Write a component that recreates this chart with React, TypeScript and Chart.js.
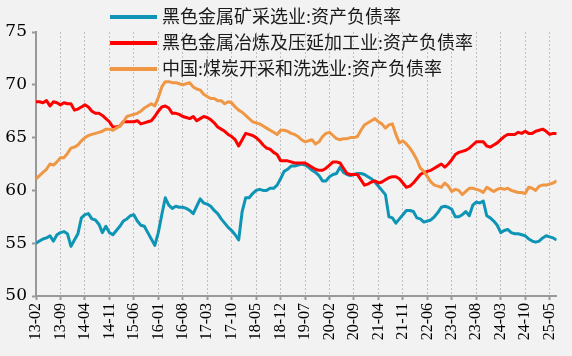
import React, { useEffect, useRef } from "react";
import { Chart, registerables } from "chart.js";

Chart.register(...registerables);

// Monthly categories 13-02 … 25-07
const START_YEAR = 2013;
const START_MONTH = 2;
const months: string[] = [];
for (let i = 0; i < 150; i++) {
  const t = START_YEAR * 12 + (START_MONTH - 1) + i;
  const y = Math.floor(t / 12) % 100;
  const m = (t % 12) + 1;
  months.push(`${String(y).padStart(2, "0")}-${String(m).padStart(2, "0")}`);
}
const TICK_STEP = 7;

const seriesNames = [
  "黑色金属矿采选业:资产负债率",
  "黑色金属冶炼及压延加工业:资产负债率",
  "中国:煤炭开采和洗选业:资产负债率",
];

const mining = [
  55.0, 55.2, 55.4, 55.5, 55.7, 55.2, 55.8, 56.0, 56.1, 55.9,
  54.7, 55.3, 55.9, 57.4, 57.7, 57.8, 57.3, 57.2, 56.8, 56.0,
  56.6, 56.0, 55.8, 56.2, 56.6, 57.1, 57.3, 57.6, 57.7, 57.1,
  56.7, 56.6, 56.0, 55.4, 54.8, 56.0, 57.7, 59.3, 58.6, 58.3,
  58.5, 58.4, 58.4, 58.3, 58.1, 57.8, 58.5, 59.2, 58.8, 58.7,
  58.5, 58.1, 57.8, 57.3, 56.9, 56.5, 56.2, 55.8, 55.3, 58.0,
  59.3, 59.3, 59.7, 60.0, 60.1, 60.0, 60.0, 60.2, 60.2, 60.5,
  61.1, 61.8, 62.0, 62.3, 62.3, 62.4, 62.5, 62.4, 62.2, 61.9,
  61.7, 61.4, 60.9, 60.9, 61.3, 61.5, 61.6, 62.2, 61.7, 61.5,
  61.4, 61.5, 61.6, 61.6, 61.5, 61.3, 61.1, 60.8, 60.4, 60.0,
  59.6, 57.5, 57.4, 56.9, 57.3, 57.7, 58.1, 58.1, 58.0, 57.4,
  57.3, 57.0, 57.1, 57.2, 57.5, 57.9, 58.4, 58.5, 58.4, 58.2,
  57.5, 57.5, 57.7, 58.0, 57.6, 58.6, 58.9, 58.8, 59.0, 57.6,
  57.4, 57.1, 56.7, 56.0, 56.2, 56.3, 56.0, 55.9, 55.9, 55.8,
  55.7, 55.4, 55.2, 55.1, 55.2, 55.5, 55.7, 55.6, 55.5, 55.3,
];

const smelting = [
  68.4, 68.4, 68.3, 68.5, 68.0, 68.4, 68.3, 68.1, 68.3, 68.2,
  68.2, 67.6, 67.7, 67.9, 68.1, 67.9, 67.5, 67.3, 67.3, 67.1,
  66.8, 66.5, 66.0, 66.0, 66.1, 66.5, 66.5, 66.5, 66.5, 66.6,
  66.3, 66.4, 66.5, 66.6, 67.0, 67.5, 67.9, 68.0, 67.8, 67.3,
  67.3, 67.2, 67.0, 66.9, 66.8, 67.0, 66.6, 66.8, 67.0, 66.9,
  66.7, 66.4, 66.0, 65.8, 65.6, 65.3, 65.1, 64.8, 64.2, 64.8,
  65.4, 65.3, 65.2, 65.0, 64.7, 64.3, 64.0, 63.9, 63.6, 63.4,
  62.8, 62.8, 62.8, 62.7, 62.6, 62.6, 62.6, 62.6, 62.4, 62.2,
  62.0, 61.9, 61.9, 62.1, 62.4, 62.7, 62.7, 62.6, 62.1, 61.6,
  61.5, 61.5, 61.5, 61.0, 60.5, 60.6, 60.8, 60.9, 60.7, 60.8,
  61.0, 61.2, 61.3, 61.3, 61.1, 60.7, 60.3, 60.4, 60.7, 61.1,
  61.5, 61.7, 61.8, 61.9, 62.1, 62.3, 62.5, 62.2, 62.5, 62.9,
  63.4, 63.6, 63.7, 63.8, 64.0, 64.3, 64.6, 64.6, 64.6, 64.2,
  64.1, 64.3, 64.5, 64.8, 65.1, 65.3, 65.3, 65.3, 65.5, 65.4,
  65.6, 65.4, 65.4, 65.6, 65.7, 65.8, 65.6, 65.3, 65.4, 65.4,
];

const coal = [
  61.1, 61.4, 61.7, 62.0, 62.5, 62.4, 62.7, 63.1, 63.1, 63.5,
  64.0, 64.1, 64.3, 64.7, 65.0, 65.2, 65.3, 65.4, 65.5, 65.6,
  65.8, 65.8, 65.7, 65.9, 66.1, 66.5, 67.0, 67.1, 67.2, 67.3,
  67.5, 67.8, 68.0, 68.2, 68.0, 68.8, 69.8, 70.3, 70.3, 70.2,
  70.2, 70.1, 70.0, 70.1, 70.2, 69.8, 69.6, 69.5, 69.1, 68.9,
  68.7, 68.7, 68.5, 68.5, 68.2, 68.4, 68.3, 67.9, 67.6, 67.4,
  67.1, 66.8, 66.5, 66.4, 66.3, 66.1, 65.9, 65.7, 65.5, 65.3,
  65.7, 65.7, 65.6, 65.4, 65.3, 65.1, 64.8, 64.6, 64.7, 64.8,
  64.4, 64.6, 65.1, 65.4, 65.5, 65.2, 64.9, 64.8, 64.9, 64.9,
  65.0, 65.0, 65.1, 65.7, 66.2, 66.4, 66.6, 66.8, 66.5, 66.3,
  65.9, 66.2, 66.3, 65.3, 64.5, 64.7, 64.4, 64.0, 63.5, 62.9,
  62.1, 61.8, 61.3, 60.8, 60.5, 60.4, 60.3, 60.7, 60.4, 59.9,
  60.1, 60.0, 59.6, 59.9, 60.2, 60.2, 60.1, 60.0, 59.8, 60.3,
  60.1, 59.9, 60.1, 60.2, 60.1, 60.2, 60.0, 59.9, 59.8, 59.8,
  59.7, 60.3, 60.2, 60.0, 60.4, 60.5, 60.5, 60.6, 60.7, 60.9,
];

const seriesColors = ["#0e95b6", "#ff0000", "#ef9744"];

const BG = "#f2f2f2";
const SERIF = '"Times New Roman", "Liberation Serif", "Noto Sans CJK SC", serif';
const SERIF_WIDE = '"DejaVu Serif", "Liberation Serif", serif';

const legendPlugin = {
  id: "customLegend",
  afterDraw(chart: any) {
    const ctx = chart.ctx;
    ctx.save();
    chart.data.datasets.forEach((ds: any, i: number) => {
      const y = 17 + i * 26;
      ctx.strokeStyle = ds.borderColor;
      ctx.lineWidth = 4;
      ctx.beginPath();
      ctx.moveTo(110, y);
      ctx.lineTo(157, y);
      ctx.stroke();
      ctx.fillStyle = "#1a1a1a";
      ctx.font = `18px ${SERIF}`;
      ctx.textBaseline = "middle";
      ctx.textAlign = "left";
      ctx.fillText(ds.label, 162, y + 1);
    });
    ctx.restore();
  },
};

const bgPlugin = {
  id: "bg",
  beforeDraw(chart: any) {
    const ctx = chart.ctx;
    ctx.save();
    ctx.fillStyle = BG;
    ctx.fillRect(0, 0, chart.width, chart.height);
    ctx.restore();
  },
};

export default function App() {
  const ref = useRef<HTMLCanvasElement | null>(null);

  useEffect(() => {
    if (!ref.current) return;
    const all = [mining, smelting, coal];
    const chart = new Chart(ref.current, {
      type: "line",
      data: {
        datasets: all.map((arr, k) => ({
          label: seriesNames[k],
          data: arr.map((v, i) => ({ x: i, y: v })),
          borderColor: seriesColors[k],
          backgroundColor: seriesColors[k],
          borderWidth: 3,
          pointRadius: 0,
          tension: 0,
          borderJoinStyle: "round" as const,
          order: 3 - k,
        })),
      },
      options: {
        animation: false,
        responsive: true,
        maintainAspectRatio: false,
        layout: { padding: { top: 32, right: 11, left: 0, bottom: 0 } },
        plugins: {
          legend: { display: false },
          tooltip: { enabled: false },
        },
        scales: {
          x: {
            type: "linear",
            min: 0,
            max: months.length - 1,
            afterBuildTicks: (axis: any) => {
              const t = [];
              for (let i = 0; i < months.length; i += TICK_STEP) t.push({ value: i });
              axis.ticks = t;
            },
            afterFit: (s: any) => {
              s.height = 60;
            },
            ticks: {
              autoSkip: false,
              minRotation: 90,
              maxRotation: 90,
              padding: 3,
              color: "#000",
              font: { family: SERIF, size: 16 },
              callback: (v: any) => months[Math.round(Number(v))] ?? "",
            },
            grid: {
              display: true,
              drawOnChartArea: true,
              drawTicks: true,
              color: "#c0c0c0",
              lineWidth: 1,
              tickLength: 4,
              tickColor: "#999",
              tickWidth: 2,
            },
            border: { display: true, color: "#999", width: 2, dash: [2, 2] },
          },
          y: {
            min: 50,
            max: 75,
            afterFit: (s: any) => {
              s.width = 36;
            },
            ticks: {
              stepSize: 5,
              padding: 5,
              color: "#000",
              font: { family: SERIF_WIDE, size: 17 },
            },
            grid: {
              drawOnChartArea: false,
              drawTicks: true,
              tickLength: 4,
              tickColor: "#999",
              tickWidth: 2,
            },
            border: { display: true, color: "#999", width: 2 },
          },
        },
      },
      plugins: [bgPlugin, legendPlugin],
    });
    return () => chart.destroy();
  }, []);

  return (
    <div
      style={{
        position: "absolute",
        left: 0,
        top: 0,
        width: 572,
        height: 356,
        background: BG,
      }}
    >
      <canvas ref={ref} />
    </div>
  );
}
